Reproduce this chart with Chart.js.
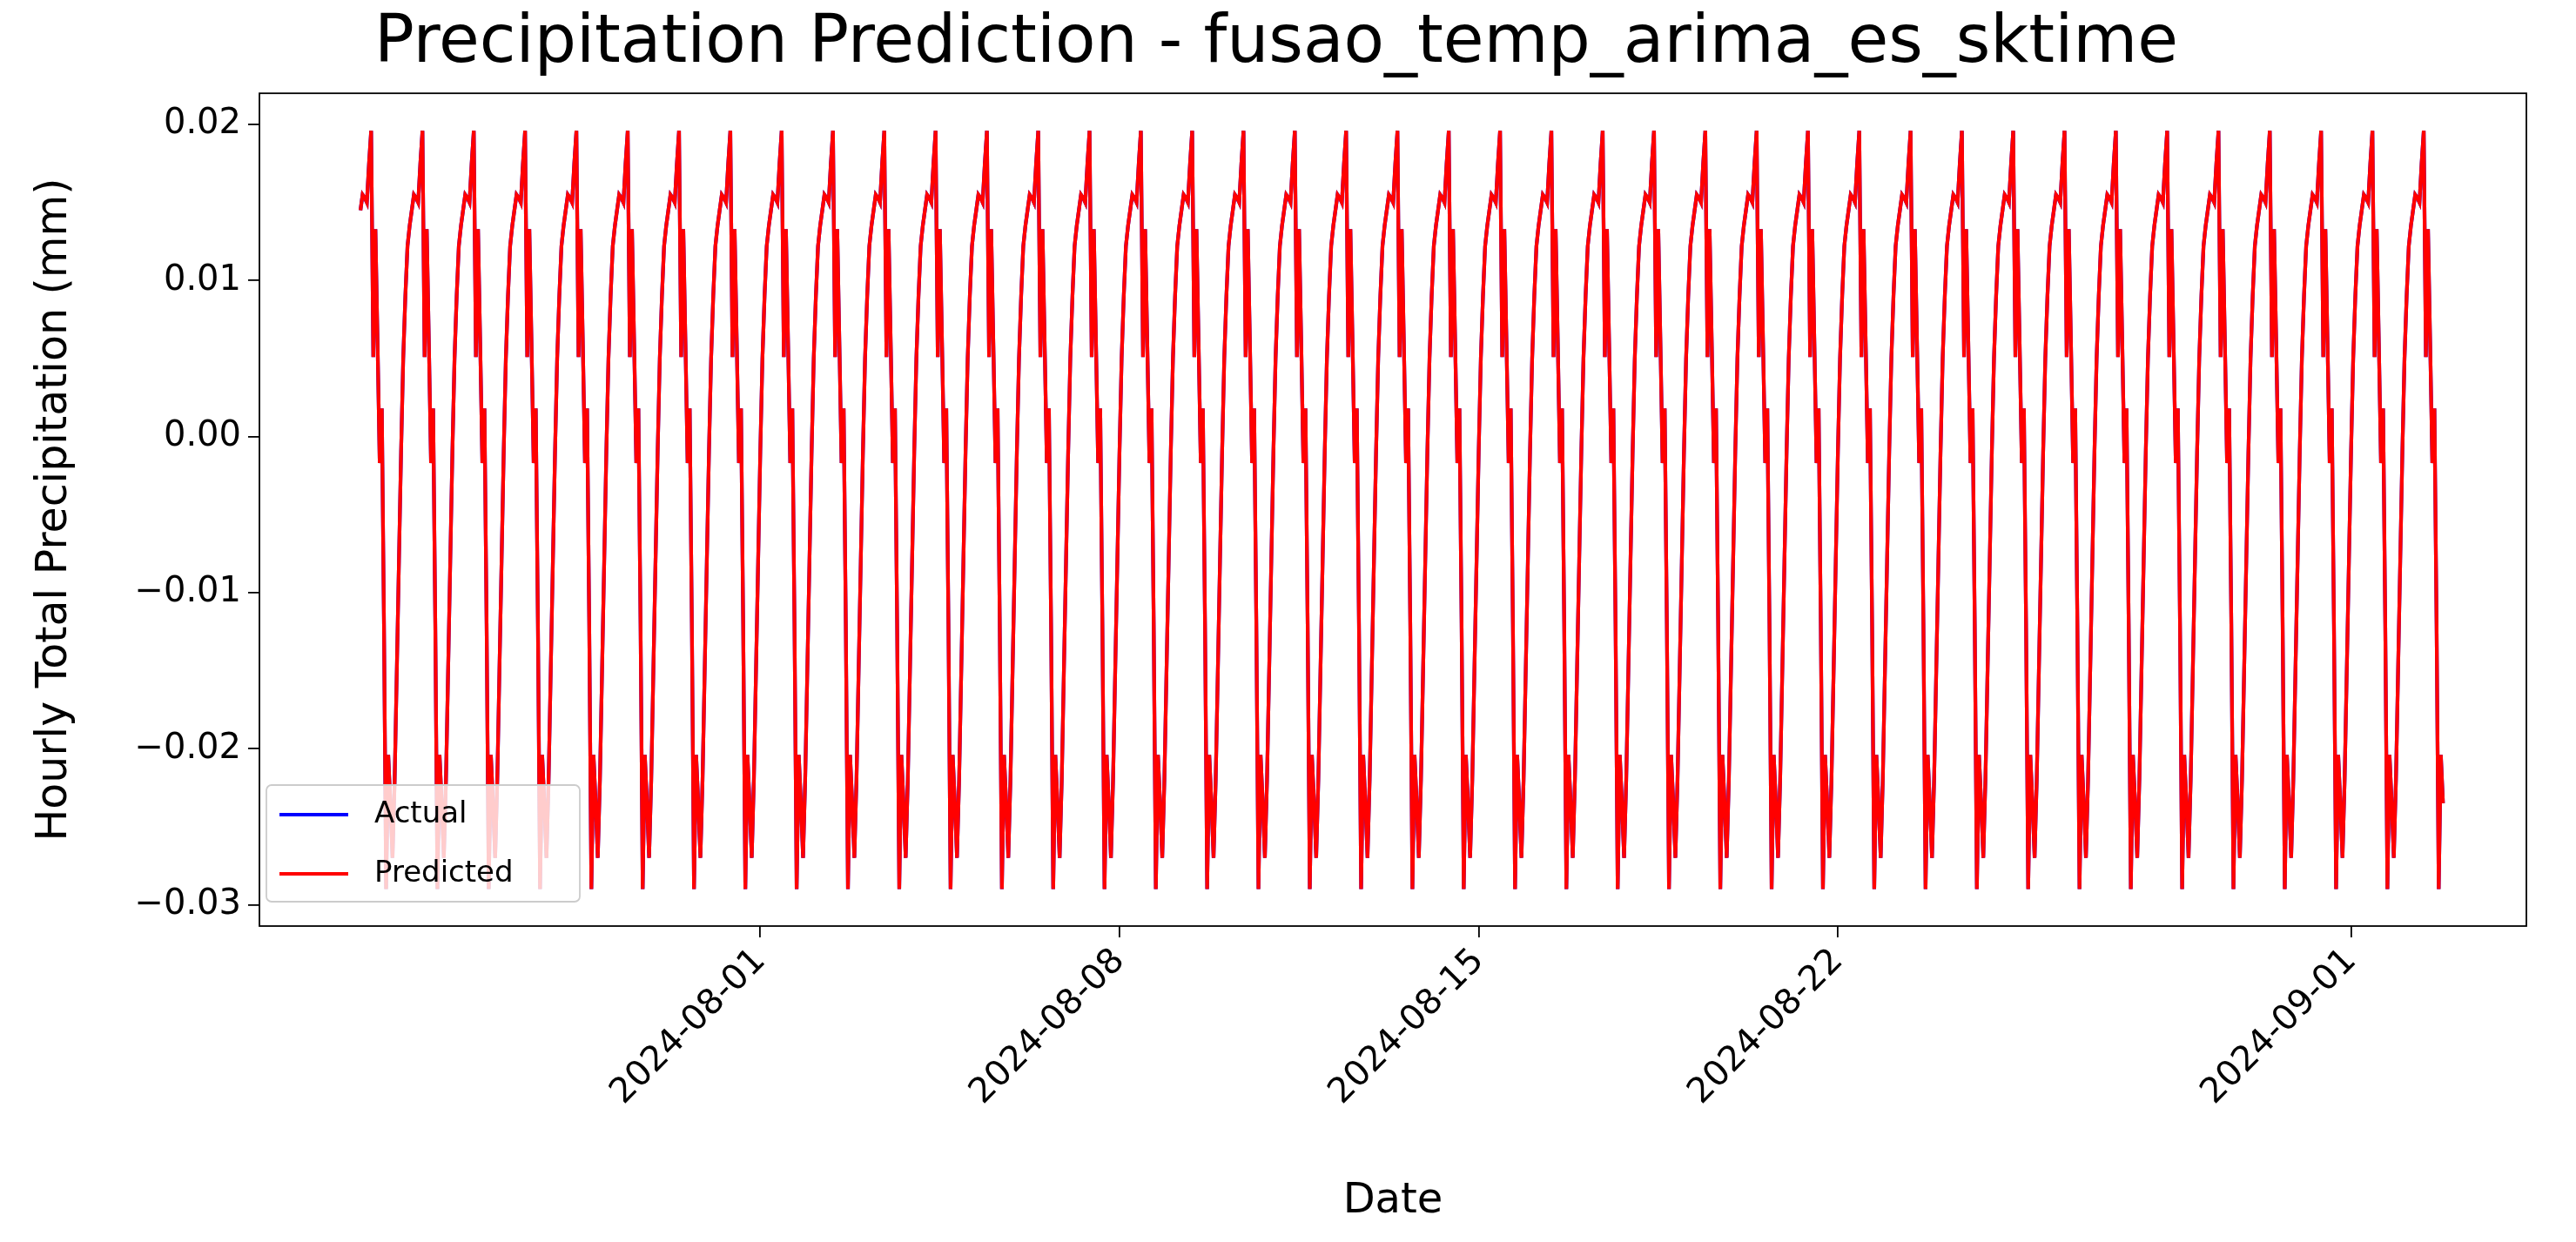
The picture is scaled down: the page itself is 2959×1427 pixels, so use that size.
<!DOCTYPE html>
<html>
<head>
<meta charset="utf-8">
<script src="https://cdn.jsdelivr.net/npm/chart.js@4.4.1/dist/chart.umd.min.js"></script>
<style>
  html, body { margin: 0; padding: 0; background: #fff; }
  #wrap { width: 2959px; height: 1427px; }
</style>
</head>
<body>
<div id="wrap"><canvas id="chart" width="2959" height="1427"></canvas></div>
<script>
// daily pattern of the forecast, hour offset 0 = 10:00
const dailyPattern = [0.0196, 0.0051, 0.0133, 0.0060, -0.0017, 0.0018, -0.0120, -0.0290,
    -0.0204, -0.0235, -0.0270, -0.0220, -0.0150, -0.0080, -0.0010, 0.0050,
    0.0090, 0.0122, 0.0135, 0.0145, 0.0155, 0.0153, 0.0150, 0.0175];
const startTime = Date.UTC(2024, 6, 24, 5);   // first forecast hour
const hourCount = 975;                        // until 2024-09-02 19:00
const xTickDates = ['2024-08-01', '2024-08-08', '2024-08-15', '2024-08-22', '2024-09-01'];
const yTicks = [-0.03, -0.02, -0.01, 0.00, 0.01, 0.02];
const xMin = Date.UTC(2024, 6, 22, 5, 45);
const xMax = Date.UTC(2024, 8, 4, 10);

const HOUR = 3600 * 1000;
const predicted = [];
for (let i = 0; i < hourCount; i++) {
    const t = startTime + i * HOUR;
    const h = new Date(t).getUTCHours();
    predicted.push({ x: t, y: dailyPattern[(h - 10 + 24) % 24] });
}
const actual = predicted.map(p => ({ x: p.x, y: p.y }));

const fmtDate = (v) => new Date(v).toISOString().slice(0, 10);
const fmtNum = (v) => (v < 0 ? '\u2212' : '') + Math.abs(v).toFixed(2);

const frame = {
    id: 'frame',
    afterDraw(chart) {
        const { ctx, chartArea: a } = chart;
        ctx.save();
        ctx.strokeStyle = '#000';
        ctx.lineWidth = 1.8;
        ctx.strokeRect(a.left, a.top, a.right - a.left, a.bottom - a.top);
        // legend box
        const lx = a.left + 8, ly = a.bottom - 162, lw = 360, lh = 134;
        ctx.fillStyle = 'rgba(255,255,255,0.8)';
        ctx.strokeStyle = '#cccccc';
        ctx.lineWidth = 1.8;
        ctx.beginPath();
        ctx.roundRect(lx, ly, lw, lh, 6);
        ctx.fill();
        ctx.stroke();
        const items = [['Actual', 'blue'], ['Predicted', 'red']];
        ctx.font = '34px "DejaVu Sans"';
        ctx.textBaseline = 'middle';
        items.forEach(([label, color], k) => {
            const yy = ly + 34 + k * 68;
            ctx.strokeStyle = color;
            ctx.lineWidth = 4;
            ctx.beginPath();
            ctx.moveTo(lx + 15, yy);
            ctx.lineTo(lx + 94, yy);
            ctx.stroke();
            ctx.fillStyle = '#000';
            ctx.fillText(label, lx + 124, yy);
        });
        ctx.restore();
    }
};

const tickGrid = { display: true, drawOnChartArea: false, drawTicks: true, tickLength: 13, color: '#000', lineWidth: 1.8 };

new Chart(document.getElementById('chart'), {
    type: 'line',
    data: {
        datasets: [
            { label: 'Predicted', data: predicted, borderColor: 'red', borderWidth: 4.2, pointRadius: 0, tension: 0 },
            { label: 'Actual', data: actual, borderColor: 'blue', borderWidth: 4.2, pointRadius: 0, tension: 0 }
        ]
    },
    options: {
        responsive: false,
        animation: false,
        devicePixelRatio: 1,
        layout: { padding: { left: 30, right: 57, top: 0, bottom: 0 } },
        plugins: {
            legend: { display: false },
            tooltip: { enabled: false },
            title: {
                display: true,
                text: 'Precipitation Prediction - fusao_temp_arima_es_sktime',
                color: '#000',
                font: { family: 'DejaVu Sans', size: 76, weight: 'normal' },
                padding: { top: 6, bottom: 10 }
            }
        },
        scales: {
            x: {
                type: 'linear',
                min: xMin,
                max: xMax,
                afterBuildTicks: (s) => { s.ticks = xTickDates.map(d => ({ value: Date.parse(d + 'T00:00:00Z') })); },
                afterFit: (s) => { s.height = 363; },
                ticks: {
                    callback: (v) => fmtDate(v),
                    maxRotation: 45, minRotation: 45,
                    color: '#000',
                    font: { family: 'DejaVu Sans', size: 40 },
                    padding: 4
                },
                grid: tickGrid,
                border: { display: false },
                title: { display: true, text: 'Date', color: '#000', font: { family: 'DejaVu Sans', size: 48 }, padding: { top: 6, bottom: 18 } }
            },
            y: {
                min: -0.03137,
                max: 0.022,
                afterBuildTicks: (s) => { s.ticks = yTicks.map(v => ({ value: v })); },
                afterFit: (s) => { s.width = 268; },
                ticks: {
                    callback: (v) => fmtNum(v),
                    color: '#000',
                    font: { family: 'DejaVu Sans', size: 40 },
                    padding: 8
                },
                grid: tickGrid,
                border: { display: false },
                title: { display: true, text: 'Hourly Total Precipitation (mm)', color: '#000', font: { family: 'DejaVu Sans', size: 49 }, padding: { bottom: 10 } }
            }
        }
    },
    plugins: [frame]
});
</script>
</body>
</html>
